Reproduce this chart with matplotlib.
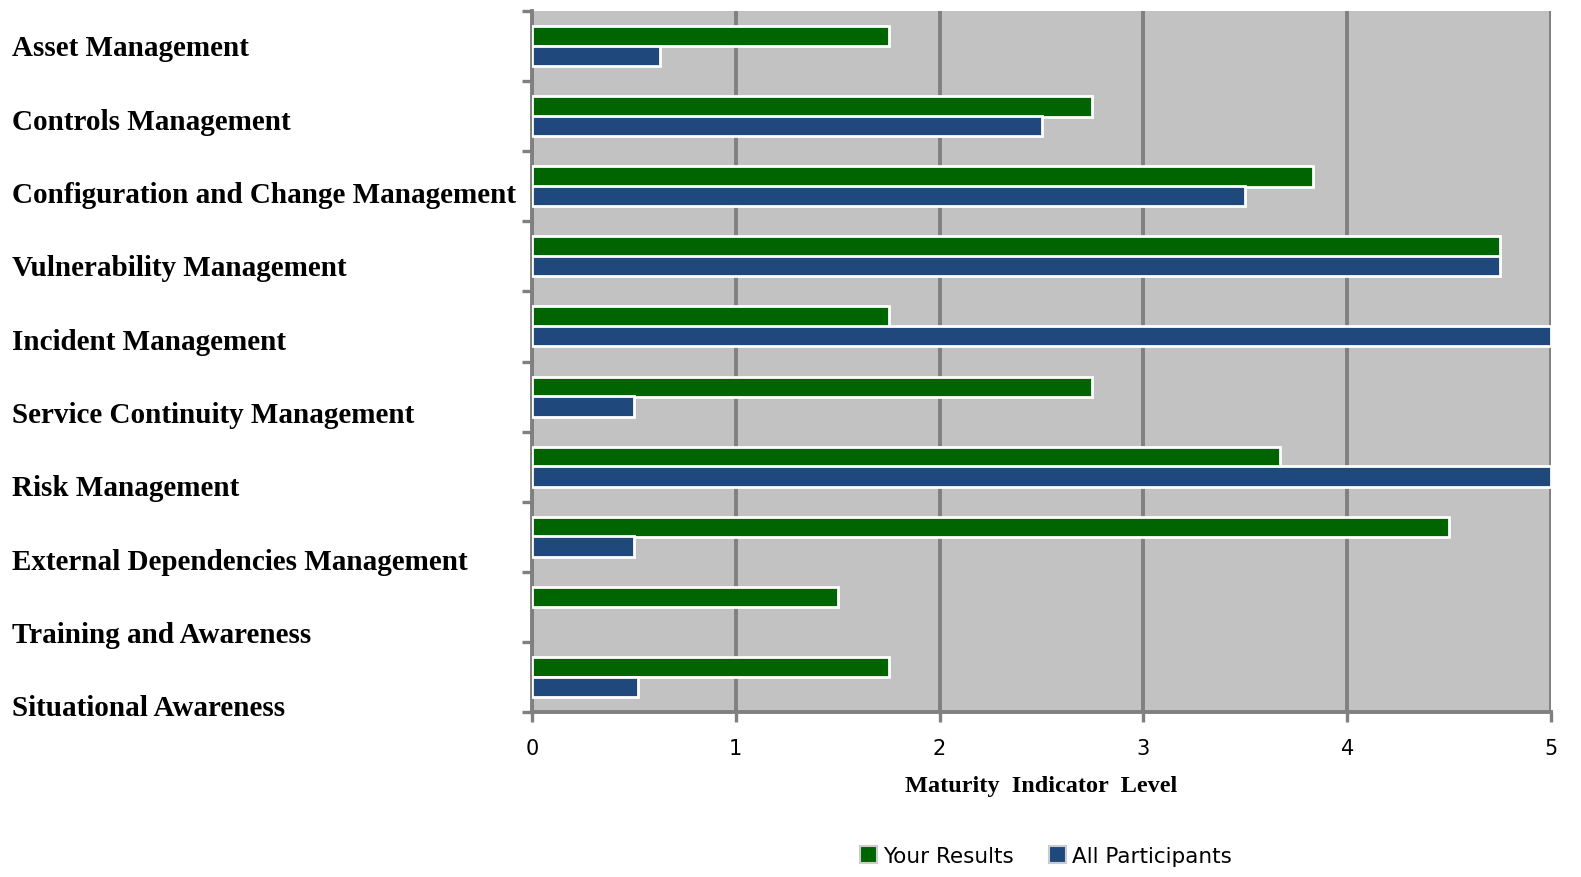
import matplotlib
matplotlib.use("Agg")
import matplotlib.pyplot as plt
from matplotlib.patches import Patch
import numpy as np

categories = [
    "Asset Management",
    "Controls Management",
    "Configuration and Change Management",
    "Vulnerability Management",
    "Incident Management",
    "Service Continuity Management",
    "Risk Management",
    "External Dependencies Management",
    "Training and Awareness",
    "Situational Awareness",
]
your_results = [1.75, 2.75, 3.83, 4.75, 1.75, 2.75, 3.67, 4.5, 1.5, 1.75]
all_participants = [0.63, 2.5, 3.5, 4.75, 5.0, 0.5, 5.0, 0.5, 0.0, 0.52]
x_ticks = [0, 1, 2, 3, 4, 5]

GREEN = "#006400"
BLUE = "#1f497d"
GREY = "#808080"

fig = plt.figure(figsize=(15.81, 8.78), dpi=100)
W, H = 1581, 878
ax = fig.add_axes([532 / W, 1 - 713 / H, (1551 - 532) / W, (713 - 12) / H])
ax.set_facecolor("#c2c2c2")

y = np.arange(len(categories))
off = 0.14
h = 0.29


def edges(vals):
    return ["white" if v > 0 else "none" for v in vals]


ax.barh(y - off, your_results, height=h, color=GREEN, edgecolor=edges(your_results),
        linewidth=2, zorder=3)
ax.barh(y + off, all_participants, height=h, color=BLUE, edgecolor=edges(all_participants),
        linewidth=2, zorder=3)

ax.set_xlim(0, 5)
ax.set_ylim(len(categories) - 0.5, -0.5)

ax.set_xticks(x_ticks)
ax.set_xticklabels([str(t) for t in x_ticks], fontsize=15, family="DejaVu Sans")
ax.xaxis.grid(True, color=GREY, linewidth=2.8, zorder=1)
ax.set_axisbelow(True)
ax.tick_params(axis="x", direction="out", length=7, width=2.4, color=GREY, pad=12)

ax.set_yticks(np.arange(-0.5, len(categories) + 0.5, 1.0))
ax.set_yticklabels([])
ax.tick_params(axis="y", direction="out", length=7, width=2.4, color=GREY)

for s in ["top", "right"]:
    ax.spines[s].set_visible(False)
for s in ["left", "bottom"]:
    ax.spines[s].set_color(GREY)
    ax.spines[s].set_linewidth(2.8)

ax.set_xlabel("Maturity  Indicator  Level", fontsize=17.5, fontweight="bold",
              family="Liberation Serif", labelpad=12)

# category labels, spaced as in the reference (outside the axes)
label_y = np.linspace(49, 709, len(categories))
for name, py in zip(categories, label_y):
    fig.text(12 / W, 1 - py / H, name, ha="left", va="center",
             fontsize=21, fontweight="bold", family="Liberation Serif")

handles = [Patch(facecolor=GREEN, edgecolor="#cccccc", linewidth=1.5, label="Your Results"),
           Patch(facecolor=BLUE, edgecolor="#cccccc", linewidth=1.5, label="All Participants")]
fig.legend(handles=handles, loc="center", bbox_to_anchor=(1046 / W, 1 - 857 / H),
           ncol=2, frameon=False, fontsize=15.5, handlelength=0.8, handleheight=0.8,
           handletextpad=0.3, columnspacing=1.6)

fig.savefig("out.png", dpi=100)
